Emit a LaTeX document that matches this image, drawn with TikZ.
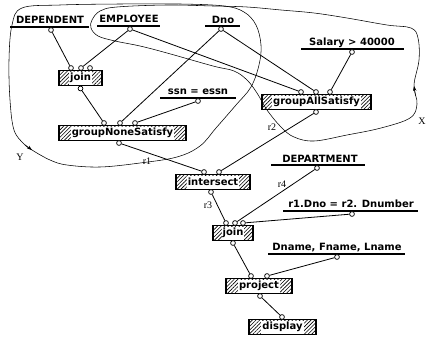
\documentclass[tikz,border=0pt]{standalone}
\usepackage{fontspec}
\setmainfont{Liberation Serif}
\newfontfamily\chic{DejaVu Sans}
\usetikzlibrary{patterns,patterns.meta,arrows.meta}
\begin{document}
\begin{tikzpicture}[x=1pt,y=-1pt,
 opbox/.style={draw, line width=1.1pt, pattern={Lines[angle=45,distance=2.6pt,line width=0.6pt]}, minimum height=15pt, inner sep=0pt},
 optext/.style={fill=white, inner xsep=1pt, inner ysep=0pt, minimum height=13pt, font=\chic\bfseries\fontsize{10}{10}\selectfont},
 lbl/.style={font=\chic\bfseries\fontsize{10}{10}\selectfont, inner sep=0pt},
 uline/.style={line width=1.1pt},
 port/.style={circle, draw, fill=white, inner sep=0pt, minimum size=4.8pt, line width=0.7pt},
 wire/.style={line width=0.8pt},
 lasso/.style={line width=0.55pt},
 rlab/.style={font=\fontsize{10}{10}\selectfont, inner sep=0pt},
 tip/.style={-{Stealth[length=5pt,width=3.5pt]}, line width=0.5pt},
]
\useasboundingbox (0,0) rectangle (428,337);

% lasso curves
\draw[lasso] plot[smooth cycle, tension=0.6] coordinates {(224,6) (180,4) (120,4) (60,5) (22,8) (12,25) (9,60) (10,100) (14,130) (24,144) (32,150) (50,160) (67,165) (100,167) (140,163) (177,157) (200,146) (216,128) (236,105) (251,87) (259,65) (261,45) (256,25) (244,12)};
\draw[tip] (25,144.8) -- (32,150);
\draw[lasso] plot[smooth cycle, tension=0.6] coordinates {(414,85) (419,60) (418,38) (411,28) (387,25) (347,18) (314,13) (281,10) (247,7) (213,6) (167,5) (117,7) (100,11) (92,20) (91,28) (98,36) (115,41) (140,46) (167,53) (213,66) (234,71) (247,80) (257,93) (267,110) (281,127) (294,137) (314,141) (347,135) (381,128) (410,118) (417,104)};
\draw[tip] (415.5,96) -- (414,86);
\node[rlab] (labX) at (422,121) {X};
\node[rlab] (labY) at (20,157) {Y};

% relation / condition labels
\node[lbl] (dep) at (50,20) {DEPENDENT};
\coordinate (depL) at (10,27); \coordinate (depR) at (89,27);
\draw[uline] (depL) -- (depR);
\node[port] (depP) at (51,30) {};

\node[lbl] (emp) at (129,19) {EMPLOYEE};
\coordinate (empL) at (97,26); \coordinate (empR) at (160,26);
\draw[uline] (empL) -- (empR);
\node[port] (empP) at (130,29) {};

\node[lbl] (dno) at (223,20) {Dno};
\coordinate (dnoL) at (205,26); \coordinate (dnoR) at (240,26);
\draw[uline] (dnoL) -- (dnoR);
\node[port] (dnoP) at (221,29) {};

\node[lbl] (sal) at (352,43) {Salary > 40000};
\coordinate (salL) at (301,49); \coordinate (salR) at (404,49);
\draw[uline] (salL) -- (salR);
\node[port] (salP) at (352,52) {};

\node[lbl] (ssn) at (198,92) {ssn = essn};
\coordinate (ssnL) at (160,98); \coordinate (ssnR) at (236,98);
\draw[uline] (ssnL) -- (ssnR);
\node[port] (ssnP) at (198,101) {};

\node[lbl] (dept) at (320,159) {DEPARTMENT};
\coordinate (deptL) at (271,165); \coordinate (deptR) at (365,165);
\draw[uline] (deptL) -- (deptR);
\node[port] (deptP) at (317,168) {};

\node[lbl] (cond) at (351,204) {r1.Dno = r2. Dnumber};
\coordinate (condL) at (283,211); \coordinate (condR) at (418,211);
\draw[uline] (condL) -- (condR);
\node[port] (condP) at (352,214) {};

\node[lbl] (attr) at (337,248) {Dname, Fname, Lname};
\coordinate (attrL) at (268,254); \coordinate (attrR) at (405,254);
\draw[uline] (attrL) -- (attrR);
\node[port] (attrP) at (337,257) {};

% operator boxes
\node[opbox, minimum width=43pt] (join1) at (80.5,78) {};
\node[optext] (join1t) at (join1) {join};
\node[port] (join1a) at (71,68) {};
\node[port] (join1b) at (81,68) {};
\node[port] (join1c) at (90,68) {};
\node[port] (join1o) at (80.5,88.5) {};

\node[opbox, minimum width=127pt] (gns) at (122.5,133) {};
\node[optext] (gnst) at (gns) {groupNoneSatisfy};
\node[port] (gnsa) at (104,123) {};
\node[port] (gnsb) at (120,123) {};
\node[port] (gnsc) at (135,123) {};
\node[port] (gnso) at (119,143) {};

\node[opbox, minimum width=109pt] (gas) at (316.5,102) {};
\node[optext] (gast) at (gas) {groupAllSatisfy};
\node[port] (gasa) at (301,92) {};
\node[port] (gasb) at (316,92) {};
\node[port] (gasc) at (330,92) {};
\node[port] (gaso) at (316,112) {};

\node[opbox, minimum width=74pt] (isect) at (213,182) {};
\node[optext] (isectt) at (isect) {intersect};
\node[port] (isecta) at (204,172) {};
\node[port] (isectb) at (219,172) {};
\node[port] (isecto) at (211,192) {};

\node[opbox, minimum width=40pt] (join2) at (233,233) {};
\node[optext] (join2t) at (join2) {join};
\node[port] (join2a) at (226,223) {};
\node[port] (join2b) at (235,223) {};
\node[port] (join2c) at (243,223) {};
\node[port] (join2o) at (233,243) {};

\node[opbox, minimum width=66pt] (proj) at (259,286) {};
\node[optext] (projt) at (proj) {project};
\node[port] (proja) at (251,276) {};
\node[port] (projb) at (267,276) {};
\node[port] (projo) at (260,296) {};

\node[opbox, minimum width=67pt] (disp) at (282.5,327) {};
\node[optext] (dispt) at (disp) {display};
\node[port] (dispa) at (282,317) {};

% wires
\draw[wire] (depP) -- (join1a);
\draw[wire] (empP) -- (join1b);
\draw[wire] (empP) -- (gasa);
\draw[wire] (dnoP) -- (gnsb);
\draw[wire] (dnoP) -- (gasb);
\draw[wire] (salP) -- (gasc);
\draw[wire] (join1o) -- (gnsa);
\draw[wire] (ssnP) -- (gnsc);
\draw[wire] (gnso) -- (isecta);
\draw[wire] (gaso) -- (isectb);
\draw[wire] (isecto) -- (join2a);
\draw[wire] (deptP) -- (join2b);
\draw[wire] (condP) -- (join2c);
\draw[wire] (join2o) -- (proja);
\draw[wire] (attrP) -- (projb);
\draw[wire] (projo) -- (dispa);

% edge labels
\node[rlab] (r1) at (147,161) {r1};
\node[rlab] (r2) at (272,127) {r2};
\node[rlab] (r3) at (208,205) {r3};
\node[rlab] (r4) at (282,184) {r4};
\end{tikzpicture}
\end{document}
